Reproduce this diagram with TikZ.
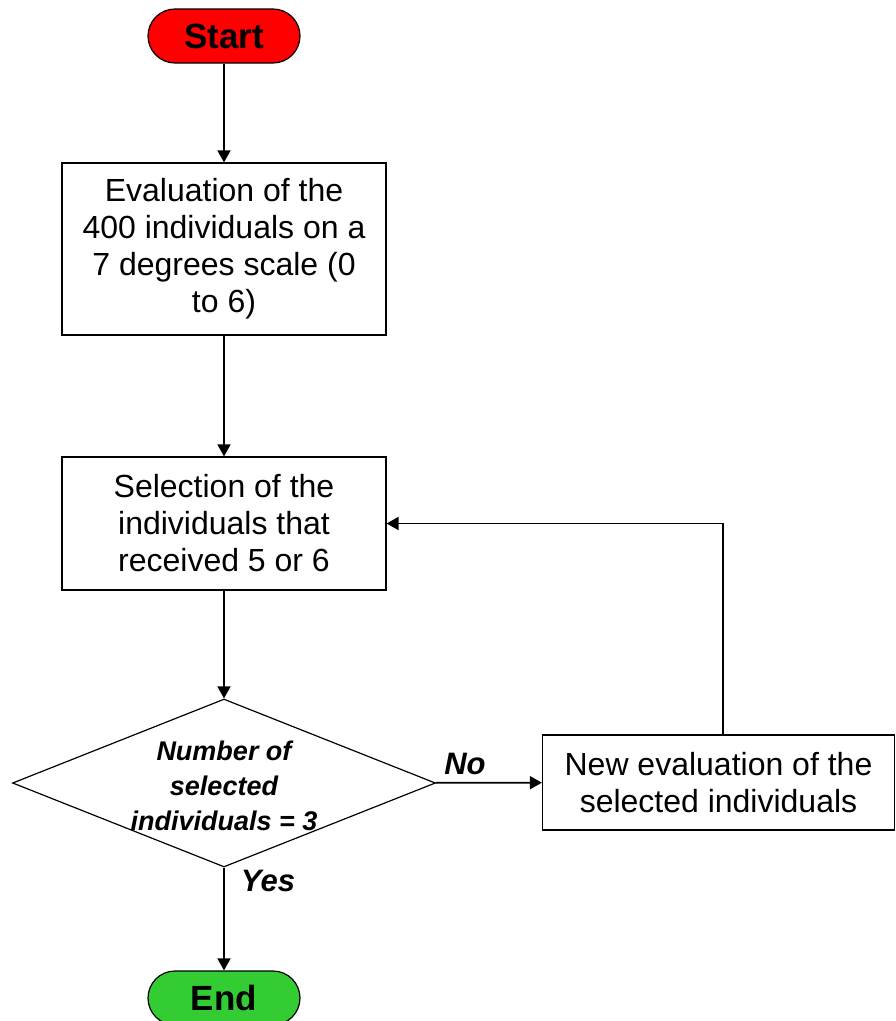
\documentclass[tikz,border=0pt]{standalone}
\usepackage{fontspec}
\setmainfont{Liberation Sans}
\usetikzlibrary{shapes.geometric,arrows.meta}
\definecolor{startred}{HTML}{FF0000}
\definecolor{endgreen}{HTML}{33CC33}
\begin{document}
\begin{tikzpicture}[x=1pt,y=1pt,
  term/.style={draw, line width=1.2pt, rounded corners=27pt, minimum width=152pt, minimum height=54pt, inner sep=0pt, font=\fontsize{35}{40}\selectfont\bfseries},
  proc/.style={draw, line width=1.2pt, align=center, inner sep=0pt, font=\fontsize{32}{37}\selectfont},
  decide/.style={draw, diamond, line width=1.2pt, inner sep=0pt, minimum width=423pt, minimum height=168pt},
  dtext/.style={align=center, inner sep=0pt, font=\fontsize{27}{35}\selectfont\bfseries\itshape},
  conn/.style={line width=1.8pt, -{Triangle[length=12pt,width=13pt]}},
  lab/.style={inner sep=0pt, font=\fontsize{31}{36}\selectfont\bfseries\itshape}]
\useasboundingbox (0,0) rectangle (896,-1021);
\node[term, fill=startred] (start) at (224,-36) {Start};
\node[proc, minimum width=324pt, minimum height=172pt] (eval) at (224,-249)
  {Evaluation of the\\400 individuals on a\\7 degrees scale (0\\to 6)};
\node[proc, minimum width=324pt, minimum height=133pt] (sel) at (224,-523.5)
  {Selection of the\\individuals that\\received 5 or 6};
\node[decide] (dec) at (224,-783) {};
\node[dtext] (dectext) at (224,-786) {Number of\\selected\\individuals = 3};
\node[proc, minimum width=352pt, minimum height=95pt] (neweval) at (718.5,-782.5)
  {New evaluation of the\\selected individuals};
\node[term, fill=endgreen] (end) at (224,-998) {End};
\draw[conn] (start) -- (eval);
\draw[conn] (eval) -- (sel);
\draw[conn] (sel) -- (dec);
\draw[conn] (dec) -- (neweval);
\draw[conn] (dec) -- (end);
\coordinate (up) at (723,-735);
\draw[conn] (up) |- (sel.east);
\node[lab] (no) at (465,-764) {No};
\node[lab] (yes) at (268,-881) {Yes};
\end{tikzpicture}
\end{document}
